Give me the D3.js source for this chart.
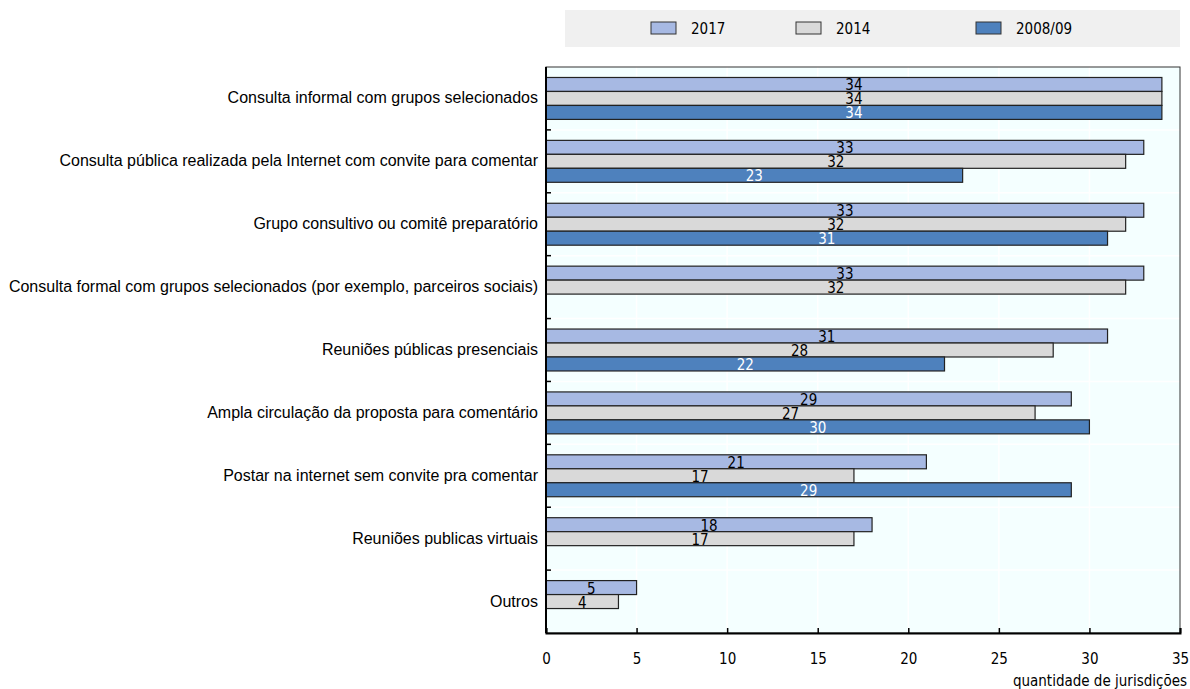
<!DOCTYPE html>
<html>
<head>
<meta charset="utf-8">
<script src="https://cdn.jsdelivr.net/npm/d3@7"></script>
<style>
  body { margin: 0; background: #fff; }
  text { font-family: "Liberation Sans Narrow", "Arial Narrow", "DejaVu Sans Condensed", sans-serif; }
  .cat { font-family: "Liberation Sans", Arial, sans-serif; font-size: 16px; fill: #000; }
</style>
</head>
<body>
<script>
// chart values
var categories = [
  "Consulta informal com grupos selecionados",
  "Consulta pública realizada pela Internet com convite para comentar",
  "Grupo consultivo ou comitê preparatório",
  "Consulta formal com grupos selecionados (por exemplo, parceiros sociais)",
  "Reuniões públicas presenciais",
  "Ampla circulação da proposta para comentário",
  "Postar na internet sem convite pra comentar",
  "Reuniões publicas virtuais",
  "Outros"
];
var seriesNames = ["2017", "2014", "2008/09"];
var v2017 = [34, 33, 33, 33, 31, 29, 21, 18, 5];
var v2014 = [34, 32, 32, 32, 28, 27, 17, 17, 4];
var v2008 = [34, 23, 31, null, 22, 30, 29, null, null];
var xTicks = [0, 5, 10, 15, 20, 25, 30, 35];

var colors = ["#a7b9e3", "#d9d9d9", "#4e81bd"];
var labelColors = ["#000", "#000", "#fff"];
var seriesValues = [v2017, v2014, v2008];

var width = 1190, height = 689;
var plotLeft = 546, plotRight = 1180, plotTop = 67, plotBottom = 633;

var svg = d3.select("body").append("svg")
  .attr("width", width)
  .attr("height", height);

// legend
svg.append("rect")
  .attr("x", 565).attr("y", 10).attr("width", 615).attr("height", 37)
  .attr("fill", "#f0f0f0");
var legendX = [651, 796, 976];
seriesNames.forEach(function(name, i){
  svg.append("rect")
    .attr("x", legendX[i]).attr("y", 22).attr("width", 25).attr("height", 12)
    .attr("fill", colors[i]).attr("stroke", "#333").attr("stroke-width", 1);
  svg.append("text")
    .attr("x", legendX[i] + 40).attr("y", 34)
    .attr("font-size", 15)
    .text(name);
});

var x = d3.scaleLinear().domain([0, 35]).range([plotLeft, plotRight]);
var y = d3.scaleBand().domain(categories).range([plotTop, plotBottom]).padding(0);
var ySub = d3.scaleBand().domain(seriesNames)
  .range([0, y.bandwidth()]).paddingInner(0).paddingOuter(0.75);

// plot background
svg.append("rect")
  .attr("x", plotLeft).attr("y", plotTop)
  .attr("width", plotRight - plotLeft).attr("height", plotBottom - plotTop)
  .attr("fill", "#f4ffff");

// white grid lines
svg.selectAll(".vgrid")
  .data(xTicks.slice(1, -1))
  .enter().append("line")
  .attr("x1", function(d){ return x(d); }).attr("x2", function(d){ return x(d); })
  .attr("y1", plotTop).attr("y2", plotBottom)
  .attr("stroke", "#fff").attr("stroke-width", 1.5);

svg.selectAll(".hgrid")
  .data(categories.slice(1))
  .enter().append("line")
  .attr("x1", plotLeft).attr("x2", plotRight)
  .attr("y1", function(d){ return y(d); }).attr("y2", function(d){ return y(d); })
  .attr("stroke", "#fff").attr("stroke-width", 1.5);

// bars
seriesNames.forEach(function(name, s){
  var rows = categories.map(function(c, i){ return { cat: c, value: seriesValues[s][i] }; })
    .filter(function(d){ return d.value !== null; });

  svg.selectAll(".bar" + s)
    .data(rows)
    .enter().append("rect")
    .attr("x", x(0))
    .attr("y", function(d){ return y(d.cat) + ySub(name); })
    .attr("width", function(d){ return x(d.value) - x(0); })
    .attr("height", ySub.bandwidth())
    .attr("fill", colors[s])
    .attr("stroke", "#222").attr("stroke-width", 1.2);
});

// value labels, centred on each bar
seriesNames.forEach(function(name, s){
  var rows = categories.map(function(c, i){ return { cat: c, value: seriesValues[s][i] }; })
    .filter(function(d){ return d.value !== null; });

  svg.selectAll(".lab" + s)
    .data(rows)
    .enter().append("text")
    .attr("x", function(d){ return x(d.value / 2); })
    .attr("y", function(d){ return y(d.cat) + ySub(name) + ySub.bandwidth() / 2 + 6; })
    .attr("text-anchor", "middle")
    .attr("font-size", 15)
    .attr("fill", labelColors[s])
    .text(function(d){ return d.value; });
});

// plot frame
svg.append("rect")
  .attr("x", plotLeft).attr("y", plotTop)
  .attr("width", plotRight - plotLeft).attr("height", plotBottom - plotTop)
  .attr("fill", "none").attr("stroke", "#333").attr("stroke-width", 1);

// category tick marks on left axis
svg.selectAll(".ytick")
  .data(categories.slice(1))
  .enter().append("line")
  .attr("x1", plotLeft).attr("x2", plotLeft + 5)
  .attr("y1", function(d){ return y(d); }).attr("y2", function(d){ return y(d); })
  .attr("stroke", "#000").attr("stroke-width", 1.5);

// category labels
svg.selectAll(".cat")
  .data(categories)
  .enter().append("text")
  .attr("class", "cat")
  .attr("x", plotLeft - 8)
  .attr("y", function(d){ return y(d) + y.bandwidth() / 2 + 5; })
  .attr("text-anchor", "end")
  .text(function(d){ return d; });

// x axis
var xAxis = d3.axisBottom(x).tickValues(xTicks).tickSize(-5).tickPadding(20);
var gx = svg.append("g")
  .attr("transform", "translate(0," + plotBottom + ")")
  .call(xAxis);
gx.select(".domain").attr("stroke", "#000").attr("stroke-width", 2);
gx.selectAll(".tick line").attr("stroke", "#000").attr("stroke-width", 1.5);
gx.selectAll(".tick text")
  .attr("font-family", "'Liberation Sans Narrow', 'Arial Narrow', 'DejaVu Sans Condensed', sans-serif")
  .attr("font-size", 15).attr("fill", "#000");

// left axis line
svg.append("line")
  .attr("x1", plotLeft).attr("x2", plotLeft).attr("y1", plotTop).attr("y2", plotBottom)
  .attr("stroke", "#000").attr("stroke-width", 2);

// axis title
svg.append("text")
  .attr("x", 1187).attr("y", 686)
  .attr("text-anchor", "end")
  .attr("font-size", 15)
  .text("quantidade de jurisdições");
</script>
</body>
</html>
